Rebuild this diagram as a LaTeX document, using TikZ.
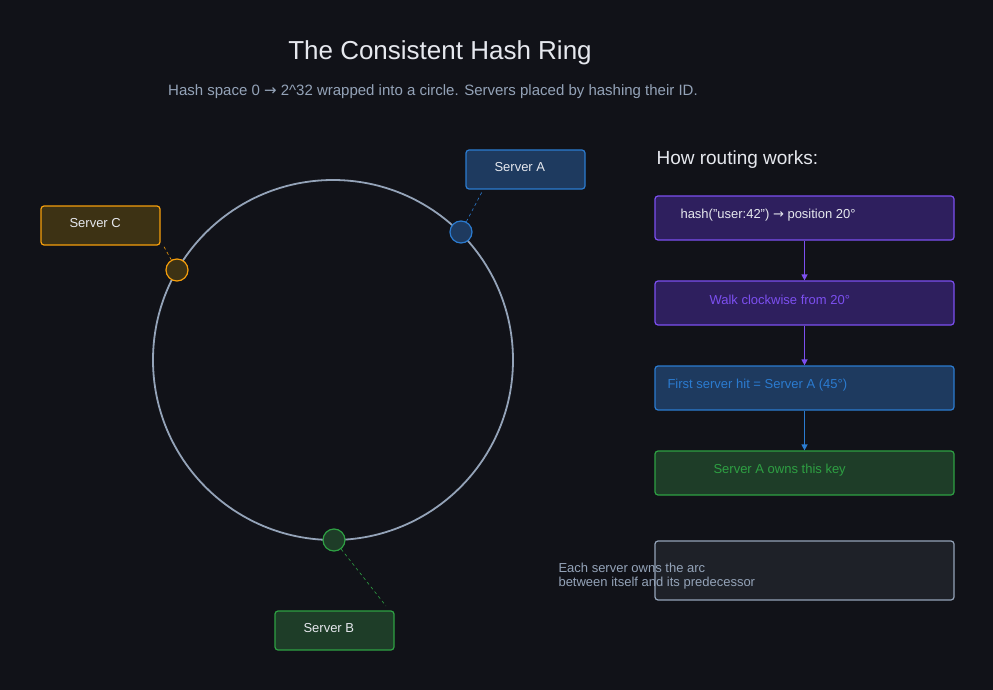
\documentclass[tikz,border=0pt]{standalone}
\usepackage{fontspec}
\setmainfont{Liberation Sans}
\newfontfamily\symfont{DejaVu Sans}
\usetikzlibrary{positioning,arrows.meta}
\definecolor{bgdark}{HTML}{111218}
\definecolor{ringgray}{HTML}{94A3B8}
\definecolor{blueline}{HTML}{2B7BD0}
\definecolor{bluefill}{HTML}{1E3A5F}
\definecolor{orangeline}{HTML}{F59E0B}
\definecolor{orangefill}{HTML}{3D3214}
\definecolor{greenline}{HTML}{2EA043}
\definecolor{greenfill}{HTML}{1E3D28}
\definecolor{purpleline}{HTML}{7C4FF0}
\definecolor{purplefill}{HTML}{2E1F5E}
\definecolor{notefill}{HTML}{1E2128}
\definecolor{textlight}{HTML}{E6E8EE}

\begin{document}
\begin{tikzpicture}[
    x=1pt, y=-1pt,
    serverbox/.style={rectangle, rounded corners=3pt, draw, line width=1.2pt, minimum width=119pt, minimum height=39pt, inner sep=0pt},
    stepbox/.style={rectangle, rounded corners=3pt, draw, line width=1.2pt, minimum width=299pt, minimum height=44pt, inner sep=0pt},
    ringdot/.style={circle, draw, line width=1.2pt, minimum size=22pt, inner sep=0pt},
    lbl/.style={font=\fontsize{13}{15}\selectfont, anchor=west},
    leader/.style={dashed, line width=0.6pt},
    arrow/.style={-{Triangle[length=6pt,width=6pt]}, line width=1.2pt}
]
    \fill[bgdark] (0,0) rectangle (993,690);
    \useasboundingbox (0,0) rectangle (993,690);

    % Title
    \node[text=textlight, font=\fontsize{26}{30}\selectfont] (title) at (440,53) {The Consistent Hash Ring};
    \node[text=ringgray, font=\fontsize{15}{18}\selectfont] (subtitle) at (433,92) {Hash space 0 {\symfont →} 2\textasciicircum 32 wrapped into a circle. Servers placed by hashing their ID.};

    % Ring
    \coordinate (ctr) at (333,360);
    \draw[ringgray, line width=1.8pt] (ctr) circle[radius=180];
    \node[ringdot, draw=blueline, fill=bluefill] (dotA) at (461,232) {};
    \node[ringdot, draw=orangeline, fill=orangefill] (dotC) at (177,270) {};
    \node[ringdot, draw=greenline, fill=greenfill] (dotB) at (334,540) {};

    % Servers
    \node[serverbox, draw=blueline, fill=bluefill] (srvA) at (525.5,169.5) {};
    \node[lbl, text=textlight] at (491,167) {Server A};
    \node[serverbox, draw=orangeline, fill=orangefill] (srvC) at (100.5,225.5) {};
    \node[lbl, text=textlight] at (66,223) {Server C};
    \node[serverbox, draw=greenline, fill=greenfill] (srvB) at (334.5,630.5) {};
    \node[lbl, text=textlight] at (300,628) {Server B};

    \coordinate (legA) at (483,190);
    \coordinate (legC) at (163,245);
    \coordinate (legB) at (386,606);
    \draw[leader, blueline] (dotA) -- (legA);
    \draw[leader, orangeline] (dotC) -- (legC);
    \draw[leader, greenline] (dotB) -- (legB);

    % Routing
    \node[text=textlight, font=\fontsize{19}{22}\selectfont, anchor=west] (howto) at (653,160) {How routing works:};
    \node[stepbox, draw=purpleline, fill=purplefill] (s1) at (804.5,218) {};
    \node[lbl, text=textlight] at (677,215) {hash("user:42") {\symfont →} position 20°};
    \node[stepbox, draw=purpleline, fill=purplefill] (s2) at (804.5,303) {};
    \node[lbl, text=purpleline] at (706,300) {Walk clockwise from 20°};
    \node[stepbox, draw=blueline, fill=bluefill] (s3) at (804.5,388) {};
    \node[lbl, text=blueline] at (664,385) {First server hit = Server A (45°)};
    \node[stepbox, draw=greenline, fill=greenfill] (s4) at (804.5,473) {};
    \node[lbl, text=greenline] at (710,470) {Server A owns this key};
    \node[stepbox, draw=ringgray, fill=notefill, minimum height=59pt] (note) at (804.5,570.5) {};
    \node[text=ringgray, font=\fontsize{13}{14}\selectfont, align=left, anchor=west] at (555,576) {Each server owns the arc\\between itself and its predecessor};

    \draw[arrow, purpleline] (s1) -- (s2);
    \draw[arrow, purpleline] (s2) -- (s3);
    \draw[arrow, blueline] (s3) -- (s4);
\end{tikzpicture}
\end{document}
